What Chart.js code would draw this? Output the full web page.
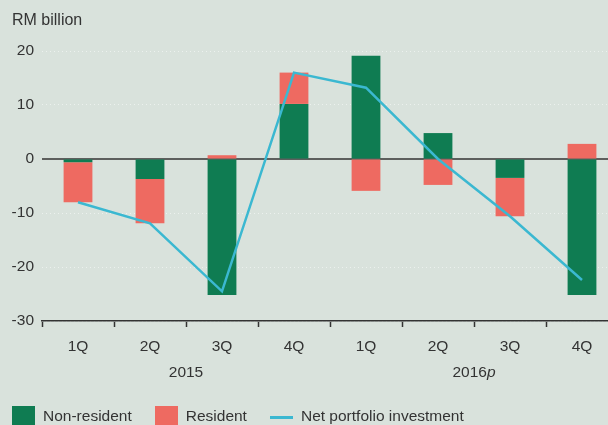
<!DOCTYPE html>
<html>
<head>
<meta charset="utf-8">
<script src="https://cdn.jsdelivr.net/npm/chart.js@4"></script>
<style>
    body { margin: 0; background: #d9e2dc; overflow: hidden; font-family: "Liberation Sans", Arial, sans-serif; color: #333; }
    #wrap { position: relative; width: 608px; height: 425px; overflow: hidden; }
    #unit { position: absolute; left: 12px; top: 11px; font-size: 16px; }
    #legend { position: absolute; left: 12px; top: 406px; font-size: 15.5px; white-space: nowrap; }
    #legend span.item { display: inline-block; margin-right: 0; }
    #legend .box { display: inline-block; width: 23px; height: 23px; vertical-align: top; }
    #legend .line { display: inline-block; width: 23px; height: 3px; vertical-align: top; margin-top: 10px; }
    #legend .txt { display: inline-block; vertical-align: top; margin-left: 8px; line-height: 20px; }
</style>
</head>
<body>
<div id="wrap">
    <canvas id="flows" width="618" height="425"></canvas>
    <div id="unit">RM billion</div>
    <div id="legend"></div>
</div>
<script>
quarters = ["1Q", "2Q", "3Q", "4Q", "1Q", "2Q", "3Q", "4Q"];
years = ["2015", "2016"];
nonResident = [-0.6, -3.7, -25.2, 10.2, 19.1, 4.8, -3.5, -25.2];
resident = [-7.4, -8.2, 0.7, 5.8, -5.9, -4.8, -7.1, 2.8];
netPortfolio = [-8.0, -11.9, -24.5, 16.0, 13.2, 0.0, -10.6, -22.4];
yTicks = [-30, -20, -10, 0, 10, 20];

var green = "#0f7c52";
var red = "#ee6a61";
var blue = "#3bb8d1";
var ink = "#333333";
var font = {family: "Liberation Sans", size: 15.5};

// year labels under the quarters, centred on each group of four
var yearLabels = {
    id: "yearLabels",
    afterDraw: function(chart) {
        var x = chart.scales.x;
        var ctx = chart.ctx;
        ctx.save();
        ctx.fillStyle = ink;
        ctx.textBaseline = "middle";
        ctx.font = "15.5px 'Liberation Sans'";
        var y = 373;
        for (var g = 0; g < years.length; g++) {
            var cx = (x.getPixelForValue(g * 4 + 1) + x.getPixelForValue(g * 4 + 2)) / 2;
            var main = years[g];
            var w = ctx.measureText(main).width;
            var extra = "";
            var ew = 0;
            if (g == 1) {
                extra = "p";
                ctx.font = "italic 15.5px 'Liberation Sans'";
                ew = ctx.measureText(extra).width;
                ctx.font = "15.5px 'Liberation Sans'";
            }
            var start = cx - (w + ew) / 2;
            ctx.textAlign = "left";
            ctx.fillText(main, start, y);
            if (extra) {
                ctx.font = "italic 15.5px 'Liberation Sans'";
                ctx.fillText(extra, start + w, y);
                ctx.font = "15.5px 'Liberation Sans'";
            }
        }
        ctx.restore();
    }
};

// solid dark line at zero
var zeroLine = {
    id: "zeroLine",
    beforeDatasetsDraw: function(chart) {
        var y = chart.scales.y.getPixelForValue(0);
        var a = chart.chartArea;
        var ctx = chart.ctx;
        ctx.save();
        ctx.strokeStyle = ink;
        ctx.lineWidth = 1.5;
        ctx.beginPath();
        ctx.moveTo(a.left, y);
        ctx.lineTo(a.right, y);
        ctx.stroke();
        ctx.restore();
    }
};

function makeChart() {
    var ctx = document.getElementById("flows").getContext("2d");
    return new Chart(ctx, {
        data: {
            labels: quarters,
            datasets: [
                {type: "line", label: "Net portfolio investment", data: netPortfolio, borderColor: blue, backgroundColor: blue,
                    borderWidth: 2.5, pointRadius: 0, tension: 0, order: 0, stack: "net"},
                {type: "bar", label: "Non-resident", data: nonResident, backgroundColor: green, order: 1, stack: "flows",
                    barPercentage: 0.4, categoryPercentage: 1},
                {type: "bar", label: "Resident", data: resident, backgroundColor: red, order: 1, stack: "flows",
                    barPercentage: 0.4, categoryPercentage: 1}
            ]
        },
        options: {
            responsive: false,
            animation: false,
            layout: {padding: {left: 0, top: 51, right: 0, bottom: 64}},
            plugins: {legend: {display: false}, tooltip: {enabled: false}},
            scales: {
                x: {
                    stacked: true,
                    offset: true,
                    grid: {offset: true, drawOnChartArea: false, tickLength: 6, tickColor: ink, tickWidth: 1.5},
                    border: {display: true, color: ink, width: 1.5},
                    ticks: {color: ink, font: font, padding: 10, maxRotation: 0},
                    afterFit: function(s) { s.height = 40; }
                },
                y: {
                    stacked: true,
                    min: -30,
                    max: 20,
                    afterBuildTicks: function(s) { s.ticks = yTicks.map(v => ({value: v})); },
                    grid: {drawTicks: false, color: (c) => c.tick && c.tick.value === 0 ? "rgba(0,0,0,0)" : "rgba(255,255,255,0.5)", lineWidth: 1},
                    border: {display: false, dash: [1, 3]},
                    ticks: {color: ink, font: font, padding: 8},
                    afterFit: function(s) { s.width = 42; }
                }
            }
        },
        plugins: [zeroLine, yearLabels]
    });
}

function buildLegend(chart) {
    var html = "";
    var order = [1, 2, 0];
    var gaps = [23, 23, 0];
    for (var i = 0; i < order.length; i++) {
        var ds = chart.data.datasets[order[i]];
        var mark = ds.type == "line"
            ? `<span class="line" style="background:${ds.borderColor}"></span>`
            : `<span class="box" style="background:${ds.backgroundColor}"></span>`;
        html += `<span class="item" style="margin-right:${gaps[i]}px">${mark}<span class="txt">${ds.label}</span></span>`;
    }
    document.getElementById("legend").innerHTML = html;
}

document.addEventListener('DOMContentLoaded', function() {
    var chart = makeChart();
    buildLegend(chart);
});
</script>
</body>
</html>
